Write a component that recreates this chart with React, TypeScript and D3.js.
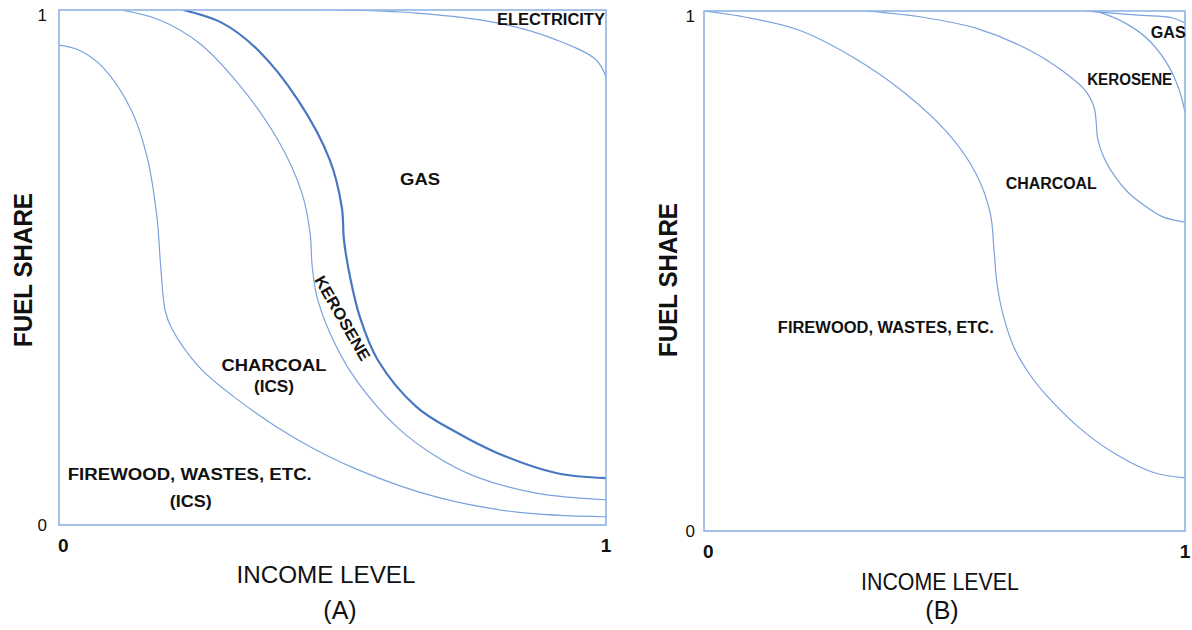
import React from 'react';
import * as d3 from 'd3';

// boundary curves, [income level, cumulative fuel share]
const aFirewood: [number, number][] = [
  [0, 0.932], [0.037, 0.922], [0.08, 0.889], [0.132, 0.806], [0.161, 0.715], [0.179, 0.598],
  [0.186, 0.501], [0.194, 0.417], [0.205, 0.384], [0.256, 0.307], [0.327, 0.243], [0.437, 0.165],
  [0.547, 0.107], [0.691, 0.054], [0.837, 0.025], [1, 0.016],
];
const aCharcoal: [number, number][] = [
  [0.113, 1], [0.183, 0.981], [0.256, 0.936], [0.327, 0.858], [0.4, 0.748], [0.444, 0.645],
  [0.459, 0.567], [0.463, 0.501], [0.473, 0.437], [0.51, 0.34], [0.547, 0.276], [0.618, 0.19],
  [0.691, 0.132], [0.764, 0.093], [0.872, 0.062], [1, 0.049],
];
const aKerosene: [number, number][] = [
  [0.227, 1], [0.298, 0.975], [0.364, 0.922], [0.437, 0.825], [0.495, 0.709], [0.517, 0.617],
  [0.521, 0.553], [0.532, 0.482], [0.55, 0.404], [0.583, 0.32], [0.654, 0.229], [0.728, 0.179],
  [0.801, 0.14], [0.909, 0.101], [1, 0.091],
];
const aGas: [number, number][] = [
  [0.503, 1], [0.654, 0.994], [0.801, 0.975], [0.909, 0.942], [0.982, 0.903], [1, 0.87],
];

const bFirewood: [number, number][] = [
  [0, 1], [0.087, 0.988], [0.198, 0.963], [0.308, 0.912], [0.418, 0.842], [0.507, 0.765],
  [0.565, 0.688], [0.595, 0.612], [0.603, 0.54], [0.609, 0.477], [0.622, 0.415], [0.645, 0.352],
  [0.678, 0.3], [0.713, 0.26], [0.786, 0.194], [0.861, 0.145], [0.933, 0.113], [1, 0.102],
];
const bCharcoal: [number, number][] = [
  [0.337, 1], [0.455, 0.988], [0.565, 0.967], [0.676, 0.925], [0.748, 0.883], [0.792, 0.848],
  [0.811, 0.815], [0.815, 0.79], [0.819, 0.752], [0.832, 0.717], [0.852, 0.685], [0.881, 0.652],
  [0.917, 0.625], [0.954, 0.604], [1, 0.594],
];
const bKerosene: [number, number][] = [
  [0.807, 1], [0.834, 0.994], [0.89, 0.969], [0.931, 0.938], [0.967, 0.892], [0.988, 0.848],
  [1, 0.806],
];
const bGas: [number, number][] = [
  [0.792, 1], [0.904, 0.992], [0.973, 0.987], [1, 0.977],
];

const ticks = [0, 1];

const LINE = '#7aa2dc';
const THICK = '#4877c2';
const BOX = '#8fb3e6';
const FONT = '"Liberation Sans", Arial, Helvetica, sans-serif';

type Label = { text: string; x: number; y: number; w: number; anchor?: string; rotate?: number; size?: number };

const aLabels: Label[] = [
  { text: 'ELECTRICITY', x: 0.998, y: 0.971, w: 108, anchor: 'end' },
  { text: 'GAS', x: 0.66, y: 0.66, w: 40 },
  { text: 'KEROSENE', x: 0.519, y: 0.402, w: 95, rotate: 60 },
  { text: 'CHARCOAL', x: 0.393, y: 0.299, w: 105 },
  { text: '(ICS)', x: 0.393, y: 0.258, w: 40 },
  { text: 'FIREWOOD, WASTES, ETC.', x: 0.016, y: 0.087, w: 244, anchor: 'start' },
  { text: '(ICS)', x: 0.241, y: 0.035, w: 42 },
];
const bLabels: Label[] = [
  { text: 'GAS', x: 0.965, y: 0.948, w: 35 },
  { text: 'KEROSENE', x: 0.885, y: 0.858, w: 85 },
  { text: 'CHARCOAL', x: 0.722, y: 0.658, w: 91 },
  { text: 'FIREWOOD, WASTES, ETC.', x: 0.378, y: 0.381, w: 216 },
];

type PanelProps = {
  id: string;
  left: number; right: number; top: number; bottom: number;
  curves: { data: [number, number][]; thick?: boolean }[];
  labels: Label[];
  yTickGap: number;
  xTitle: { cx: number; y: number; w: number };
  yTitle: { cx: number; cy: number };
  tag: { text: string; cx: number };
};

function Panel(p: PanelProps) {
  const x = d3.scaleLinear().domain([0, 1]).range([p.left, p.right]);
  const y = d3.scaleLinear().domain([0, 1]).range([p.bottom, p.top]);
  const line = d3.line<[number, number]>()
    .x(d => x(d[0]))
    .y(d => y(d[1]))
    .curve(d3.curveCatmullRom.alpha(0.5));
  return (
    <g>
      <defs>
        <clipPath id={`clip-${p.id}`}>
          <rect x={p.left} y={p.top} width={p.right - p.left} height={p.bottom - p.top} />
        </clipPath>
      </defs>
      <g clipPath={`url(#clip-${p.id})`}>
        {p.curves.map((c, i) => (
          <path key={i} d={line(c.data) || ''} fill="none"
            stroke={c.thick ? THICK : LINE} strokeWidth={c.thick ? 2.2 : 1.2} />
        ))}
      </g>
      <rect x={p.left} y={p.top} width={p.right - p.left} height={p.bottom - p.top}
        fill="none" stroke={BOX} strokeWidth={1.6} />
      {p.labels.map((l, i) => {
        const lx = x(l.x), ly = y(l.y);
        return (
          <text key={i} x={0} y={0} transform={`translate(${lx},${ly})${l.rotate ? ` rotate(${l.rotate})` : ''}`}
            textAnchor={l.anchor || 'middle'} fontFamily={FONT} fontWeight="bold" fontSize={l.size || 16}
            textLength={l.w} lengthAdjust="spacingAndGlyphs"
            dy={l.rotate ? 6 : 0} fill="#111">{l.text}</text>
        );
      })}
      {ticks.map(t => (
        <text key={`y${t}`} x={p.left - p.yTickGap} y={y(t) + (t === 1 ? 11 : 6)} textAnchor="end"
          fontFamily={FONT} fontSize={17} fill="#111">{t}</text>
      ))}
      {ticks.map(t => (
        <text key={`x${t}`} x={t === 0 ? x(t) - 1 : x(t)} y={p.bottom + 27} textAnchor={t === 0 ? 'start' : 'middle'}
          fontFamily={FONT} fontWeight="bold" fontSize={19} fill="#111">{t}</text>
      ))}
      <text x={p.xTitle.cx} y={p.xTitle.y} textAnchor="middle" fontFamily={FONT} fontSize={24}
        textLength={p.xTitle.w} lengthAdjust="spacingAndGlyphs" fill="#111">INCOME LEVEL</text>
      <text transform={`translate(${p.yTitle.cx + 9},${p.yTitle.cy}) rotate(-90)`} textAnchor="middle"
        fontFamily={FONT} fontWeight="bold" fontSize={25} textLength={154} lengthAdjust="spacingAndGlyphs"
        fill="#111">FUEL SHARE</text>
      <text x={p.tag.cx} y={619} textAnchor="middle" fontFamily={FONT} fontSize={25} fill="#111">{p.tag.text}</text>
    </g>
  );
}

export default function App() {
  return (
    <div style={{ position: 'fixed', left: 0, top: 0, width: 1192, height: 630, background: '#fff' }}>
      <svg width={1192} height={630} style={{ display: 'block' }}>
        <rect width={1192} height={630} fill="#fff" />
        <Panel id="a" left={59} right={606} top={10} bottom={525}
          curves={[{ data: aFirewood }, { data: aCharcoal }, { data: aKerosene, thick: true }, { data: aGas }]}
          labels={aLabels} yTickGap={12}
          xTitle={{ cx: 326, y: 583, w: 179 }} yTitle={{ cx: 23, cy: 270 }} tag={{ text: '(A)', cx: 340 }} />
        <Panel id="b" left={704} right={1185} top={11} bottom={531}
          curves={[{ data: bFirewood }, { data: bCharcoal }, { data: bKerosene }, { data: bGas }]}
          labels={bLabels} yTickGap={9}
          xTitle={{ cx: 940, y: 590, w: 158 }} yTitle={{ cx: 668, cy: 280 }} tag={{ text: '(B)', cx: 942 }} />
      </svg>
    </div>
  );
}
